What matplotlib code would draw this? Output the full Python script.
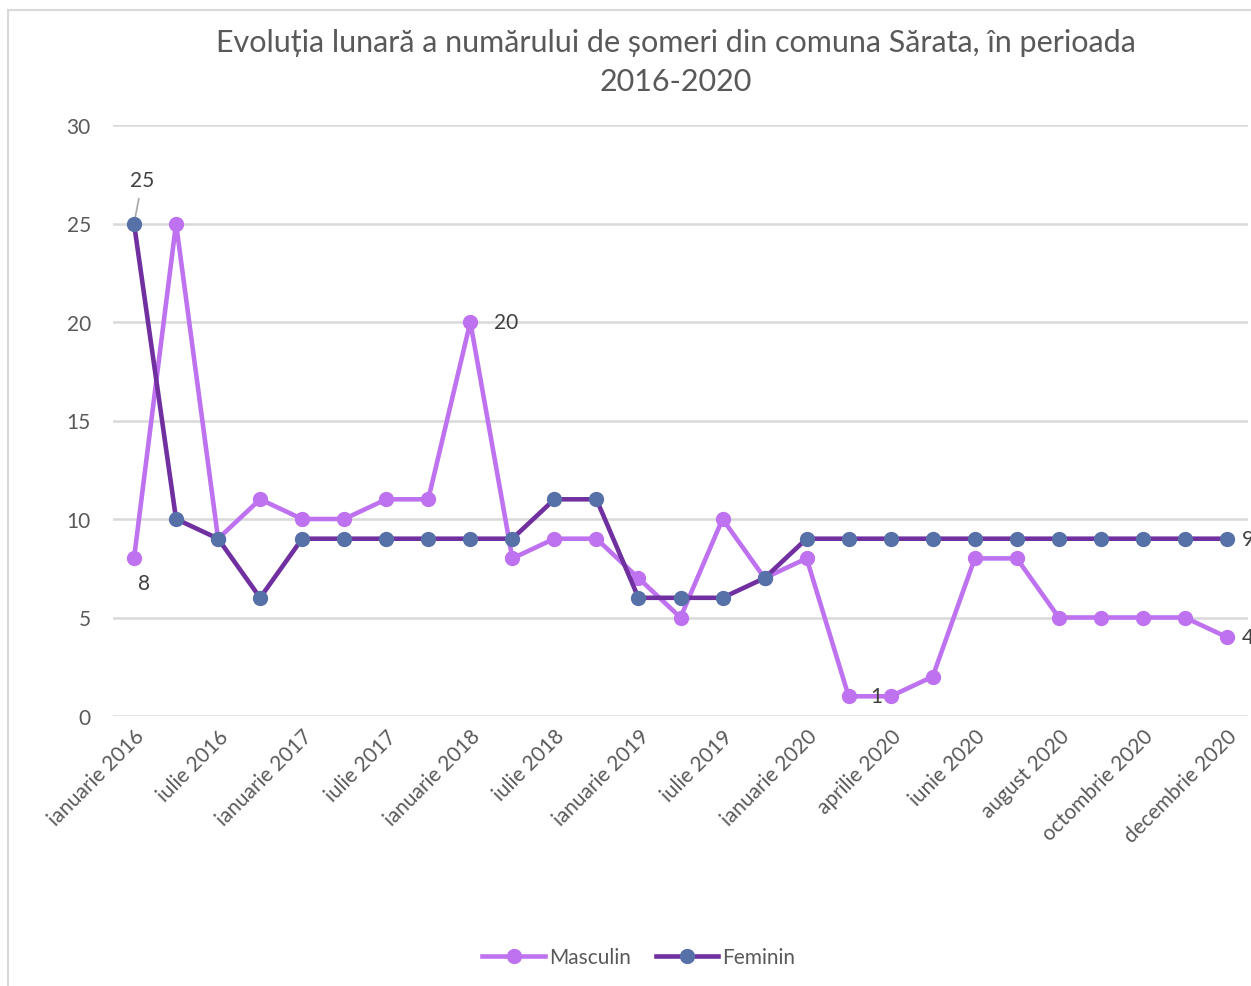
import matplotlib.pyplot as plt
from matplotlib.patches import Rectangle

plt.rcParams['font.family'] = ['Lato', 'DejaVu Sans']

# categories (quarterly 2016-2019, monthly 2020)
luni = ['ianuarie 2016', 'aprilie 2016', 'iulie 2016', 'octombrie 2016',
        'ianuarie 2017', 'aprilie 2017', 'iulie 2017', 'octombrie 2017',
        'ianuarie 2018', 'aprilie 2018', 'iulie 2018', 'octombrie 2018',
        'ianuarie 2019', 'aprilie 2019', 'iulie 2019', 'octombrie 2019',
        'ianuarie 2020', 'martie 2020', 'aprilie 2020', 'mai 2020',
        'iunie 2020', 'iulie 2020', 'august 2020', 'septembrie 2020',
        'octombrie 2020', 'noiembrie 2020', 'decembrie 2020']
masculin = [8, 25, 9, 11, 10, 10, 11, 11, 20, 8, 9, 9, 7, 5, 10, 7, 8,
            1, 1, 2, 8, 8, 5, 5, 5, 5, 4]
feminin = [25, 10, 9, 6, 9, 9, 9, 9, 9, 9, 11, 11, 6, 6, 6, 7, 9,
           9, 9, 9, 9, 9, 9, 9, 9, 9, 9]

c_masc = '#BF72F0'
c_fem_line = '#7030A0'
c_fem_mark = '#5670A8'
txt = '#404040'

fig = plt.figure(figsize=(12.51, 9.87), dpi=100)
fig.patches.append(Rectangle((8 / 1251, -0.1), 1.2, 1 - 11 / 987 + 0.1,
                             transform=fig.transFigure, fill=False,
                             edgecolor='#D9D9D9', linewidth=1.5))
ax = fig.add_axes([113 / 1251, 1 - 717 / 987, (1248 - 113) / 1251, (717 - 126) / 987])

x = range(len(luni))
ax.plot(x, masculin, color=c_masc, linewidth=3.3, marker='o', markersize=10,
        markerfacecolor=c_masc, markeredgecolor=c_masc, label='Masculin', zorder=3)
ax.plot(x, feminin, color=c_fem_line, linewidth=3.3, marker='o', markersize=10,
        markerfacecolor=c_fem_mark, markeredgecolor=c_fem_mark, label='Feminin', zorder=4)

ax.set_xlim(-0.5, len(luni) - 0.5)
ax.set_ylim(0, 30)
ax.set_yticks(range(0, 31, 5))
ax.yaxis.grid(True, color='#D9D9D9', linewidth=1.8)
ax.set_axisbelow(True)
for s in ax.spines.values():
    s.set_visible(False)
ax.tick_params(length=0, labelsize=15, labelcolor='#595959')
ax.tick_params(axis='y', pad=16)

ax.set_xticks(list(x)[::2])
ax.set_xticklabels(luni[::2], rotation=45, ha='right', rotation_mode='anchor')
ax.tick_params(axis='x', pad=7)

# data labels
lbl = dict(fontsize=15, color=txt)
ax.annotate('25', xy=(0, feminin[0]), xytext=(6, 31), textcoords='offset points',
            ha='center', va='center', arrowprops=dict(arrowstyle='-', color='#A6A6A6',
                                                      linewidth=1.2, shrinkA=4, shrinkB=0), **lbl)
ax.annotate('8', xy=(0, masculin[0]), xytext=(7, -18), textcoords='offset points',
            ha='center', va='center', **lbl)
ax.annotate('20', xy=(8, masculin[8]), xytext=(17, 0), textcoords='offset points',
            ha='left', va='center', **lbl)
ax.annotate('1', xy=(18, masculin[18]), xytext=(-10, 0), textcoords='offset points',
            ha='center', va='center', **lbl)
ax.annotate('9', xy=(26, feminin[26]), xytext=(11, 0), textcoords='offset points',
            ha='left', va='center', annotation_clip=False, **lbl)
ax.annotate('4', xy=(26, masculin[26]), xytext=(11, 0), textcoords='offset points',
            ha='left', va='center', annotation_clip=False, **lbl)

fig.text(676 / 1251, 1 - 43 / 987, 'Evoluția lunară a numărului de șomeri din comuna Sărata, în perioada',
         ha='center', va='center', fontsize=22, color='#595959')
fig.text(676 / 1251, 1 - 82 / 987, '2016-2020', ha='center', va='center',
         fontsize=22, color='#595959')

fig.legend(loc='center', bbox_to_anchor=(639 / 1251, 1 - 958 / 987), ncol=2, frameon=False,
           fontsize=15, labelcolor='#595959', handlelength=3, handletextpad=0.2,
           columnspacing=1.2)

fig.savefig('out.png', dpi=100)
